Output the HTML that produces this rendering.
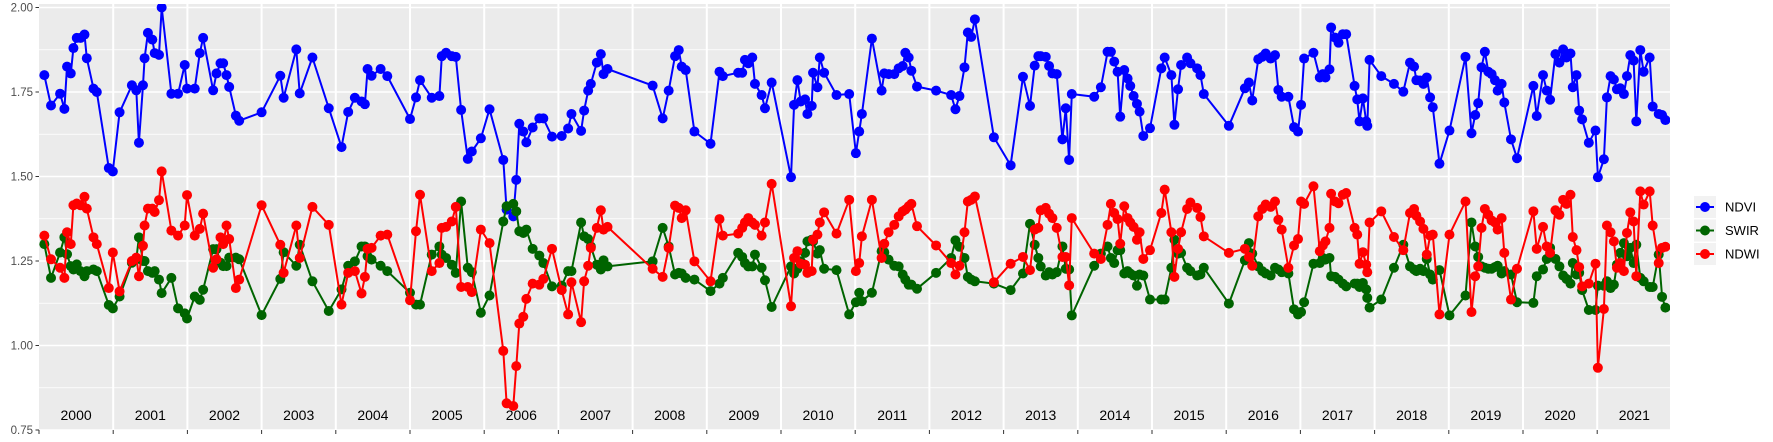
<!DOCTYPE html>
<html><head><meta charset="utf-8">
<style>
html,body{margin:0;padding:0;background:#fff;}
svg{display:block;font-family:"Liberation Sans",sans-serif;}
</style></head>
<body>
<svg id="chart" width="1773" height="442" viewBox="0 0 1773 442" xmlns="http://www.w3.org/2000/svg">
<defs><clipPath id="pc"><rect x="39" y="4" width="1631" height="426"/></clipPath></defs>
<rect x="39" y="4" width="1631" height="426" fill="#ebebeb"/>
<g id="grid"></g>
<g id="series" clip-path="url(#pc)"></g>
<g id="axes"></g>
<g id="legend"></g>
</svg>
<script>
const dates = [2000.072,2000.162,2000.284,2000.342,2000.378,2000.428,2000.464,2000.509,2000.559,2000.613,2000.644,2000.734,2000.779,2000.941,2000.995,2001.086,2001.252,2001.311,2001.347,2001.401,2001.423,2001.468,2001.527,2001.559,2001.617,2001.653,2001.784,2001.874,2001.964,2001.995,2002.099,2002.167,2002.212,2002.347,2002.392,2002.446,2002.482,2002.527,2002.563,2002.653,2002.698,2003.000,
2003.252,2003.297,2003.468,2003.514,2003.685,2003.905,2004.077,2004.167,2004.257,2004.347,2004.392,2004.428,2004.482,2004.604,2004.694,2005.000,2005.081,2005.135,2005.293,2005.396,2005.428,2005.486,2005.563,2005.617,2005.689,2005.779,2005.833,2005.955,2006.072,
2006.257,2006.302,2006.392,2006.432,2006.473,2006.527,2006.568,2006.653,2006.743,2006.797,2006.914,2007.045,2007.131,2007.176,2007.306,2007.347,2007.401,2007.437,2007.518,2007.572,2007.608,2007.662,2008.270,2008.405,2008.486,2008.572,2008.622,2008.662,2008.716,2008.833,2009.050,
2009.171,2009.216,2009.423,2009.477,2009.514,2009.559,2009.613,2009.649,2009.739,2009.784,2009.874,2010.135,2010.176,2010.221,2010.266,2010.324,2010.356,2010.414,2010.432,2010.491,2010.523,2010.581,2010.748,2010.919,2011.009,2011.054,2011.090,2011.225,2011.356,2011.392,2011.450,2011.527,2011.586,2011.640,2011.676,2011.721,2011.757,2011.833,2012.090,
2012.293,2012.351,2012.405,2012.473,2012.518,2012.563,2012.613,2012.869,2013.095,2013.261,2013.356,2013.419,2013.468,2013.500,2013.568,2013.613,2013.658,2013.716,2013.793,2013.838,2013.883,2013.919,2014.221,2014.311,2014.401,2014.446,2014.491,2014.536,2014.572,2014.626,2014.671,2014.707,2014.752,2014.797,2014.833,2014.883,2014.973,
2015.126,2015.171,2015.261,2015.302,2015.351,2015.392,2015.473,2015.518,2015.608,2015.653,2015.698,2016.036,2016.252,2016.306,2016.351,2016.432,2016.486,2016.532,2016.599,2016.658,2016.703,2016.748,2016.838,2016.914,2016.968,2017.009,2017.050,2017.176,2017.261,2017.302,2017.338,2017.392,2017.414,2017.468,2017.514,2017.572,2017.617,2017.730,2017.766,2017.797,2017.842,2017.887,2017.901,2017.932,
2018.090,2018.261,2018.387,2018.477,2018.532,2018.563,2018.613,2018.658,2018.703,2018.748,2018.784,2018.874,2019.009,2019.225,2019.306,2019.356,2019.396,2019.441,2019.486,2019.532,2019.577,2019.622,2019.658,2019.712,2019.748,2019.838,2019.919,2020.140,2020.185,2020.270,2020.320,2020.365,2020.437,2020.491,2020.541,2020.586,2020.640,2020.671,2020.721,2020.757,2020.797,2020.887,2020.977,2021.009,
2021.090,2021.131,2021.180,2021.225,2021.266,2021.311,2021.360,2021.401,2021.446,2021.491,2021.527,2021.581,2021.626,2021.707,2021.748,2021.829,2021.874,2021.919];

const ndvi = [1.800,1.710,1.745,1.700,1.825,1.805,1.880,1.910,1.910,1.920,1.850,1.760,1.750,1.525,1.515,1.690,1.770,1.755,1.600,1.770,1.850,1.925,1.905,1.865,1.860,2.000,1.745,1.745,1.830,1.760,1.760,1.865,1.910,1.755,1.805,1.835,1.835,1.800,1.765,1.680,1.665,1.690,
1.798,1.733,1.876,1.746,1.852,1.702,1.587,1.691,1.733,1.722,1.714,1.818,1.798,1.818,1.797,1.670,1.734,1.785,1.733,1.738,1.856,1.866,1.856,1.854,1.697,1.552,1.574,1.613,1.699,
1.549,1.402,1.382,1.490,1.656,1.633,1.601,1.645,1.672,1.672,1.618,1.620,1.642,1.685,1.635,1.695,1.754,1.774,1.837,1.862,1.803,1.818,1.769,1.672,1.754,1.856,1.874,1.825,1.815,1.633,1.597,
1.810,1.797,1.807,1.807,1.845,1.835,1.852,1.774,1.741,1.702,1.778,1.498,1.712,1.785,1.722,1.728,1.685,1.709,1.807,1.764,1.852,1.807,1.741,1.744,1.569,1.633,1.685,1.908,1.754,1.805,1.803,1.803,1.820,1.827,1.866,1.852,1.813,1.766,1.754,
1.741,1.699,1.738,1.823,1.926,1.913,1.965,1.616,1.533,1.795,1.709,1.828,1.856,1.856,1.854,1.827,1.805,1.803,1.610,1.702,1.549,1.744,1.736,1.764,1.869,1.869,1.840,1.810,1.677,1.815,1.790,1.768,1.738,1.715,1.692,1.620,1.643,
1.820,1.852,1.800,1.653,1.758,1.830,1.852,1.835,1.820,1.800,1.744,1.650,1.761,1.778,1.725,1.847,1.854,1.864,1.849,1.859,1.756,1.736,1.736,1.646,1.633,1.712,1.849,1.866,1.793,1.803,1.793,1.817,1.941,1.911,1.896,1.921,1.921,1.768,1.728,1.663,1.731,1.663,1.650,1.845,
1.797,1.774,1.751,1.837,1.825,1.785,1.784,1.774,1.793,1.734,1.705,1.538,1.636,1.854,1.628,1.682,1.717,1.823,1.869,1.810,1.803,1.785,1.754,1.774,1.719,1.610,1.554,1.768,1.679,1.800,1.754,1.727,1.862,1.837,1.876,1.852,1.864,1.764,1.800,1.695,1.669,1.600,1.636,1.498,
1.551,1.734,1.797,1.787,1.758,1.761,1.744,1.797,1.859,1.843,1.663,1.874,1.810,1.852,1.707,1.685,1.682,1.667];

const swir = [1.300,1.200,1.275,1.320,1.270,1.235,1.225,1.240,1.220,1.205,1.220,1.225,1.220,1.120,1.110,1.145,1.245,1.255,1.320,1.250,1.250,1.220,1.215,1.220,1.195,1.155,1.200,1.110,1.095,1.080,1.145,1.135,1.165,1.285,1.285,1.245,1.235,1.235,1.260,1.260,1.255,1.090,
1.197,1.276,1.236,1.298,1.190,1.102,1.166,1.236,1.249,1.293,1.293,1.264,1.254,1.236,1.220,1.156,1.121,1.121,1.269,1.293,1.269,1.259,1.239,1.215,1.426,1.230,1.217,1.097,1.148,
1.367,1.412,1.419,1.397,1.338,1.333,1.343,1.286,1.266,1.244,1.175,1.177,1.220,1.220,1.364,1.323,1.315,1.293,1.239,1.225,1.252,1.234,1.249,1.348,1.293,1.210,1.215,1.213,1.200,1.195,1.161,
1.183,1.200,1.274,1.262,1.244,1.234,1.234,1.269,1.230,1.193,1.114,1.234,1.213,1.227,1.249,1.274,1.308,1.313,1.308,1.272,1.282,1.227,1.223,1.092,1.128,1.156,1.131,1.156,1.279,1.276,1.254,1.236,1.234,1.210,1.195,1.180,1.180,1.168,1.215,
1.259,1.311,1.292,1.259,1.203,1.195,1.190,1.183,1.164,1.213,1.360,1.298,1.259,1.234,1.207,1.217,1.210,1.217,1.293,1.227,1.225,1.089,1.236,1.272,1.293,1.259,1.244,1.282,1.282,1.213,1.220,1.213,1.207,1.177,1.210,1.207,1.136,
1.136,1.136,1.230,1.313,1.272,1.274,1.230,1.220,1.207,1.210,1.230,1.124,1.252,1.303,1.272,1.234,1.220,1.213,1.207,1.230,1.225,1.217,1.213,1.107,1.092,1.099,1.128,1.242,1.244,1.259,1.254,1.259,1.205,1.203,1.195,1.183,1.175,1.183,1.183,1.173,1.185,1.166,1.141,1.112,
1.136,1.230,1.298,1.234,1.225,1.220,1.227,1.220,1.256,1.210,1.195,1.223,1.089,1.148,1.364,1.293,1.262,1.234,1.230,1.227,1.227,1.232,1.236,1.213,1.220,1.210,1.128,1.126,1.205,1.225,1.256,1.289,1.256,1.234,1.207,1.197,1.183,1.244,1.210,1.215,1.164,1.105,1.105,1.177,
1.177,1.190,1.170,1.180,1.239,1.274,1.303,1.264,1.289,1.244,1.298,1.200,1.190,1.173,1.173,1.269,1.144,1.112];

const ndwi = [1.325,1.255,1.230,1.200,1.335,1.300,1.415,1.420,1.415,1.440,1.405,1.320,1.300,1.170,1.275,1.160,1.250,1.260,1.205,1.295,1.355,1.405,1.405,1.395,1.430,1.515,1.340,1.325,1.355,1.445,1.325,1.345,1.390,1.230,1.255,1.320,1.300,1.355,1.315,1.170,1.195,1.415,
1.298,1.215,1.355,1.259,1.410,1.357,1.121,1.215,1.220,1.154,1.203,1.286,1.289,1.325,1.328,1.134,1.338,1.446,1.220,1.244,1.348,1.351,1.367,1.410,1.173,1.173,1.158,1.343,1.303,
0.984,0.829,0.821,0.939,1.065,1.085,1.138,1.183,1.180,1.197,1.286,1.164,1.092,1.187,1.069,1.190,1.236,1.289,1.348,1.400,1.343,1.351,1.227,1.203,1.289,1.414,1.407,1.377,1.400,1.249,1.190,
1.374,1.325,1.331,1.348,1.364,1.377,1.364,1.357,1.325,1.364,1.478,1.116,1.259,1.279,1.242,1.239,1.215,1.220,1.313,1.328,1.364,1.394,1.331,1.431,1.220,1.244,1.323,1.431,1.259,1.301,1.335,1.357,1.382,1.397,1.402,1.412,1.419,1.353,1.296,
1.244,1.210,1.236,1.335,1.426,1.431,1.441,1.187,1.242,1.262,1.223,1.343,1.348,1.400,1.407,1.390,1.377,1.348,1.262,1.262,1.178,1.377,1.272,1.256,1.357,1.419,1.392,1.374,1.301,1.412,1.377,1.364,1.351,1.313,1.335,1.256,1.282,
1.392,1.461,1.335,1.203,1.286,1.335,1.404,1.423,1.407,1.380,1.323,1.274,1.286,1.262,1.236,1.382,1.404,1.417,1.410,1.426,1.372,1.343,1.230,1.296,1.315,1.426,1.419,1.471,1.279,1.296,1.308,1.348,1.449,1.426,1.421,1.446,1.451,1.348,1.328,1.242,1.276,1.239,1.217,1.364,
1.397,1.321,1.282,1.392,1.404,1.384,1.367,1.345,1.269,1.325,1.328,1.092,1.328,1.426,1.099,1.205,1.234,1.348,1.404,1.387,1.370,1.364,1.343,1.377,1.274,1.136,1.227,1.397,1.286,1.351,1.293,1.274,1.400,1.387,1.431,1.419,1.446,1.321,1.282,1.232,1.175,1.183,1.242,0.934,
1.108,1.355,1.335,1.308,1.230,1.244,1.220,1.333,1.394,1.367,1.205,1.456,1.417,1.456,1.355,1.244,1.289,1.292];

const yTicks = [0.75, 1.00, 1.25, 1.50, 1.75, 2.00];
const yTickLabels = ["0.75", "1.00", "1.25", "1.50", "1.75", "2.00"];
const years = [2000,2001,2002,2003,2004,2005,2006,2007,2008,2009,2010,2011,2012,2013,2014,2015,2016,2017,2018,2019,2020,2021];
const seriesNames = ["NDVI", "SWIR", "NDWI"];

const NS = "http://www.w3.org/2000/svg";
const X0 = 39, YW = 74.2, Y0 = 7.5, YK = 338;
function xs(d){ return X0 + (d - 2000) * YW; }
function ys(v){ return Y0 + (2 - v) * YK; }
function mk(tag, attrs, parent){ const e = document.createElementNS(NS, tag); for (const k in attrs) e.setAttribute(k, attrs[k]); parent.appendChild(e); return e; }

const grid = document.getElementById('grid');
for (let v = 0.875; v < 2; v += 0.25) {
  const l = mk('line', {x1:39, x2:1670, y1:ys(v), y2:ys(v), stroke:'#fff', 'stroke-width':0.7}, grid);
  
  
}
yTicks.forEach(v => {
  const l = mk('line', {x1:39, x2:1670, y1:ys(v), y2:ys(v), stroke:'#fff', 'stroke-width':1.4}, grid);
  
  
});
years.forEach(y => {
  if (y === 2000) return;
  const l = mk('line', {x1:xs(y), x2:xs(y), y1:4, y2:430, stroke:'#fff', 'stroke-width':2}, grid);
  
  
});

const axes = document.getElementById('axes');
yTicks.forEach((v, i) => {
  const t = mk('line', {x1:35.5, x2:39, y1:ys(v), y2:ys(v), stroke:'#333', 'stroke-width':1}, axes);
  
  
  const tx = mk('text', {x:33, y:ys(v) + 4, 'text-anchor':'end', 'font-size':11.5, fill:'#4d4d4d'}, axes);
  tx.textContent = yTickLabels[i];
  
  
});
years.concat([2022]).forEach(y => {
  if (y === 2022) return;
  const t = mk('line', {x1:xs(y), x2:xs(y), y1:430, y2:434, stroke:'#333', 'stroke-width':1}, axes);
  
  
});
years.forEach(y => {
  const tx = mk('text', {x:xs(y + 0.5), y:420, 'text-anchor':'middle', 'font-size':14, fill:'#000'}, axes);
  tx.textContent = String(y);
  
  
});

const colors = {NDVI:'#0000ff', SWIR:'#006400', NDWI:'#ff0000'};
const seriesData = {NDVI: ndvi, SWIR: swir, NDWI: ndwi};
const sg = document.getElementById('series');
seriesNames.forEach(name => {
  const vals = seriesData[name];
  const g = mk('g', {}, sg);
  
  
  const pts = dates.map((d, i) => xs(d).toFixed(1) + ',' + ys(vals[i]).toFixed(1)).join(' ');
  const pl = mk('polyline', {points:pts, fill:'none', stroke:colors[name], 'stroke-width':2, 'stroke-linejoin':'round'}, g);
  
  
  dates.forEach((d, i) => {
    const c = mk('circle', {cx:xs(d), cy:ys(vals[i]), r:5, fill:colors[name]}, g);
    
    
  });
});

const lg = document.getElementById('legend');
seriesNames.forEach((name, i) => {
  const y = 196 + i * 23.5;
  const k = mk('rect', {x:1694, y:y, width:22, height:22, fill:'#f2f2f2'}, lg);
  
  
  mk('line', {x1:1696, x2:1714, y1:y + 11, y2:y + 11, stroke:colors[name], 'stroke-width':2}, lg);
  mk('circle', {cx:1705, cy:y + 11, r:5, fill:colors[name]}, lg);
  const t = mk('text', {x:1725, y:y + 15.5, 'font-size':13, fill:'#000'}, lg);
  t.textContent = name;
  
  
});
</script>
</body></html>
